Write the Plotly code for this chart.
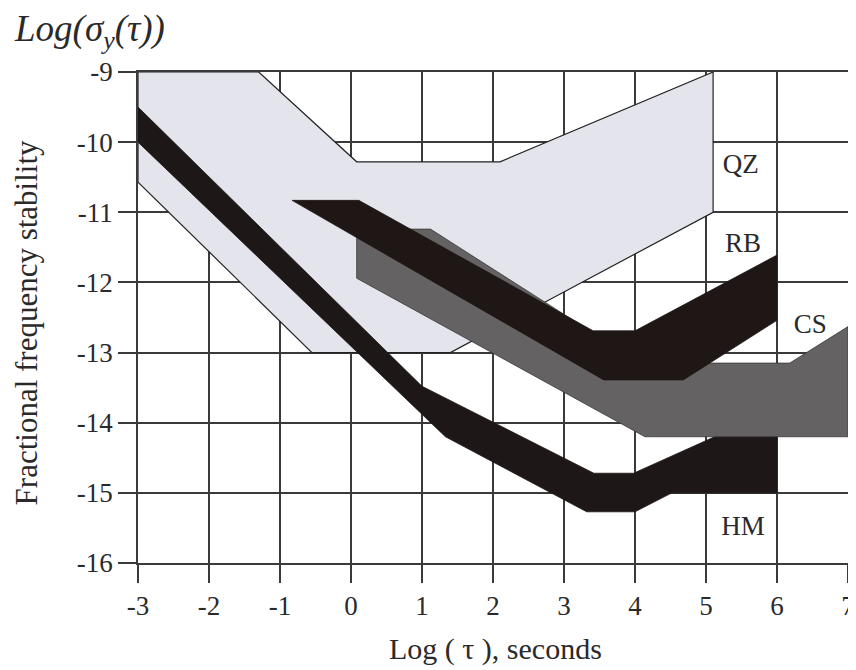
import plotly.graph_objects as go

# ---- data ----
x_ticks = [-3, -2, -1, 0, 1, 2, 3, 4, 5, 6, 7]
x_tick_labels = ["-3", "-2", "-1", "0", "1", "2", "3", "4", "5", "6", "7"]
y_ticks = [-16, -15, -14, -13, -12, -11, -10, -9]
y_tick_labels = ["-16", "-15", "-14", "-13", "-12", "-11", "-10", "-9"]

qz_x = [-3, -1.3, 0.08, 2.1, 5.1, 5.1, 1.4, -0.55, -3, -3]
qz_y = [-9, -9, -10.28, -10.28, -9, -11.0, -13.0, -13.0, -10.57, -9]

hm_x = [-3, 1.0, 3.42, 3.98, 6.0, 6.0, 4.52, 4.0, 3.32, 1.33, -3, -3]
hm_y = [-9.5, -13.48, -14.72, -14.72, -13.8, -15.0, -15.0, -15.27, -15.27, -14.2, -10.0, -9.5]

cs_x = [0.08, 0.835, 1.12, 3.41, 5.0, 6.18, 7.0, 7.0, 4.14, 0.08, 0.08]
cs_y = [-11.2, -11.24, -11.24, -12.72, -13.15, -13.15, -12.63, -14.2, -14.2, -11.94, -11.2]

rb_x = [-0.83, 0.11, 3.41, 4.0, 6.0, 6.0, 4.68, 3.56, -0.83]
rb_y = [-10.83, -10.83, -12.69, -12.69, -11.61, -12.54, -13.39, -13.39, -10.83]

labels = ["QZ", "RB", "CS", "HM"]
label_x = [5.49, 5.52, 6.47, 5.52]
label_y = [-10.35, -11.47, -12.63, -15.51]

# ---- figure ----
fig = go.Figure()
serif = "Liberation Serif, Times New Roman, serif"
ink = "#2a2a2a"

fig.add_trace(go.Scatter(x=qz_x, y=qz_y, mode="lines", fill="toself",
                         fillcolor="#e4e5ec", line=dict(color="#222222", width=1.2),
                         hoverinfo="skip", showlegend=False))
fig.add_trace(go.Scatter(x=hm_x, y=hm_y, mode="lines", fill="toself",
                         fillcolor="#1e1717", line=dict(color="#1e1717", width=0.8),
                         hoverinfo="skip", showlegend=False))
fig.add_trace(go.Scatter(x=cs_x, y=cs_y, mode="lines", fill="toself",
                         fillcolor="#646262", line=dict(color="#3a3838", width=0.8),
                         hoverinfo="skip", showlegend=False))
fig.add_trace(go.Scatter(x=rb_x, y=rb_y, mode="lines", fill="toself",
                         fillcolor="#1f1616", line=dict(color="#1f1616", width=0.8),
                         hoverinfo="skip", showlegend=False))

fig.add_trace(go.Scatter(x=label_x, y=label_y, mode="text", text=labels,
                         textfont=dict(family=serif, size=27, color=ink),
                         hoverinfo="skip", showlegend=False))

axis_common = dict(showgrid=True, gridcolor="#3a3a3a", gridwidth=1.5,
                   showline=True, linecolor="#3a3a3a", linewidth=1.5, mirror=True,
                   ticks="outside", ticklen=18, tickwidth=1.5, tickcolor="#3a3a3a",
                   zeroline=False, automargin=False,
                   tickfont=dict(family=serif, size=27, color=ink))

# the page body adds an 8px offset, so the figure is 8px smaller and margins shifted
fig.update_layout(
    width=848, height=662,
    margin=dict(l=129.5, r=8, t=63.7, b=106.7, autoexpand=False),
    paper_bgcolor="white", plot_bgcolor="white",
    xaxis=dict(range=[-3, 7], tickvals=x_ticks, ticktext=x_tick_labels, **axis_common),
    yaxis=dict(range=[-16, -9], tickvals=y_ticks, ticktext=y_tick_labels, **axis_common),
    annotations=[
        dict(text="<i>Log(σ<sub>y</sub>(τ))</i>", xref="paper", yref="paper",
             x=-0.178, y=1.083, xanchor="left", yanchor="middle", showarrow=False,
             font=dict(family=serif, size=37, color=ink)),
        dict(text="Fractional frequency stability", xref="paper", yref="paper",
             x=-0.157, y=0.489, xanchor="center", yanchor="middle", textangle=-90,
             showarrow=False, font=dict(family=serif, size=31, color=ink)),
        dict(text="Log ( τ ), seconds", xref="paper", yref="paper",
             x=0.503, y=-0.175, xanchor="center", yanchor="middle", showarrow=False,
             font=dict(family=serif, size=30, color=ink)),
    ],
)

fig.write_html("out.html")
